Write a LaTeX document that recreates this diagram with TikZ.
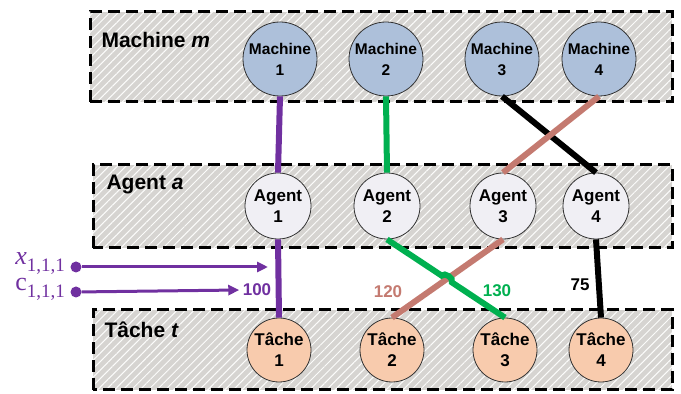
\documentclass[tikz,border=0pt]{standalone}
\usepackage{fontspec}
\setmainfont{Liberation Sans}
\newfontfamily\varfont{Liberation Serif}
\usetikzlibrary{arrows.meta,calc,intersections,patterns.meta}

\definecolor{machblue}{HTML}{ADC0DA}
\definecolor{agentgray}{HTML}{F0EFF4}
\definecolor{tachepeach}{HTML}{F8CBAD}
\definecolor{linkpurple}{HTML}{7030A0}
\definecolor{linkgreen}{HTML}{00B050}
\definecolor{linkrose}{HTML}{C47A70}
\definecolor{bandgray}{HTML}{D6D4D1}

\newcommand{\varsub}[1]{{\fontsize{19}{20}\selectfont\raisebox{-7pt}{#1}}}

\tikzset{
  band/.style={preaction={fill=bandgray},pattern={Lines[angle=45,distance=6pt,line width=1pt]},
    pattern color=white!92!bandgray,draw=black,line width=3pt,dash pattern=on 12pt off 6pt},
  bandlabel/.style={anchor=west,font=\bfseries\fontsize{21}{24}\selectfont},
  circ/.style={circle,draw=black!80,line width=0.8pt,align=center,inner sep=0pt},
  machine/.style={circ,fill=machblue,minimum size=74pt,font=\bfseries\fontsize{15.5}{21}\selectfont},
  agent/.style={circ,fill=agentgray,minimum size=66pt,font=\bfseries\fontsize{17}{21}\selectfont},
  tache/.style={circ,fill=tachepeach,minimum size=64pt,font=\bfseries\fontsize{17}{21}\selectfont},
  link/.style={line width=6pt},
  cost/.style={font=\bfseries\fontsize{17}{20}\selectfont},
  var/.style={anchor=east,linkpurple,inner sep=1pt,font=\varfont\fontsize{26}{28}\selectfont},
}

\begin{document}
\begin{tikzpicture}[x=1pt,y=1pt,>=Triangle]
  \useasboundingbox (0,0) rectangle (681,394);
  % bands
  \draw[band] (90,292) rectangle (672,382);
  \draw[band] (93,146) rectangle (672,229);
  \draw[band] (93,4) rectangle (672,84);
  \node[bandlabel] (lm) at (98,354) {Machine \textit{m}};
  \node[bandlabel] (la) at (103,209) {Agent \textit{a}};
  \node[bandlabel] (lt) at (101,64) {Tâche \textit{t}};

  % nodes
  \node[machine] (m1) at (280,335) {Machine\\1};
  \node[machine] (m2) at (386,335) {Machine\\2};
  \node[machine] (m3) at (502,335) {Machine\\3};
  \node[machine] (m4) at (599,335) {Machine\\4};
  \node[agent] (a1) at (278,188) {Agent\\1};
  \node[agent] (a2) at (387,188) {Agent\\2};
  \node[agent] (a3) at (503,188) {Agent\\3};
  \node[agent] (a4) at (596,188) {Agent\\4};
  \node[tache] (t1) at (279,44) {Tâche\\1};
  \node[tache] (t2) at (392,44) {Tâche\\2};
  \node[tache] (t3) at (505,44) {Tâche\\3};
  \node[tache] (t4) at (601,44) {Tâche\\4};

  % links machine - agent
  \draw[link,linkpurple] (m1.south) -- (a1.north);
  \draw[link,linkgreen] (m2.south) -- (a2.north);
  \draw[link,black] (m3.south) -- (a4.north);
  \draw[link,linkrose] (m4.south) -- (a3.north);

  % links agent - tache
  \draw[link,linkpurple] (a1.south) -- (t1.north);
  \draw[link,black] (a4.south) -- (t4.north);
  \path[name path=green] (a2.south) -- (t3.north);
  \draw[link,linkrose,name path=rose] (a3.south) -- (t2.north);
  \path[name intersections={of=green and rose,by=cr}];
  \draw[link,linkgreen] (a2.south) -- ($(cr)!6pt!(a2.south)$)
    to[bend left=90] ($(cr)!6pt!(t3.north)$) -- (t3.north);

  % costs
  \node[cost,linkpurple] (c100) at (257,104) {100};
  \node[cost,linkrose] (c120) at (388,102) {120};
  \node[cost,linkgreen] (c130) at (497,103) {130};
  \node[cost] (c75) at (580,109) {75};

  % variables
  \node[circle,fill=linkpurple,inner sep=0pt,minimum size=11pt] (dx) at (76,127) {};
  \node[circle,fill=linkpurple,inner sep=0pt,minimum size=11pt] (dc) at (76,102) {};
  \node[var] (vx) at (66,131) {\textit{x}\varsub{1,1,1}};
  \node[var] (vc) at (66,105) {c\varsub{1,1,1}};
  \coordinate (ex) at (268,127);
  \draw[linkpurple,line width=3pt,-{Triangle[length=11pt,width=10pt]}] (dx) -- (ex);
  \draw[linkpurple,line width=3pt,-{Triangle[length=11pt,width=10pt]}] (dc) -- (c100.west);
\end{tikzpicture}
\end{document}
